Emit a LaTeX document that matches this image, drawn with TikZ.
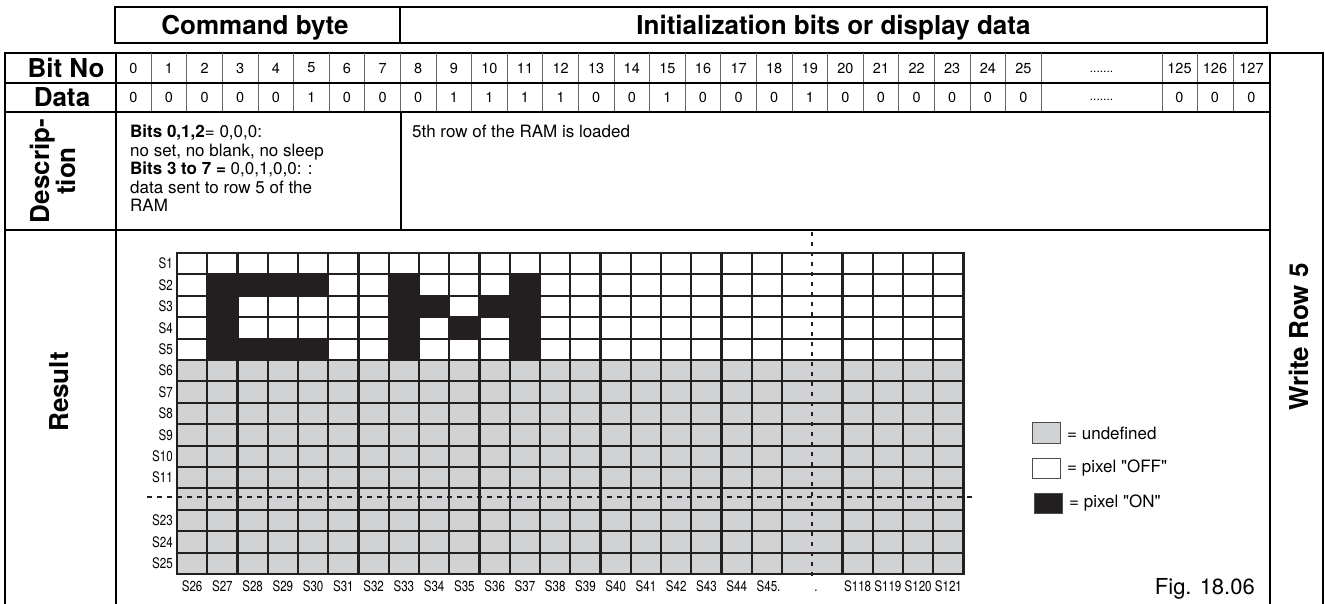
\documentclass[tikz,border=0pt]{standalone}
\usepackage{fontspec}
\setmainfont{TeX Gyre Heros}
\newfontfamily\narrowf[FakeStretch=0.8]{TeX Gyre Heros}
\newfontfamily\qf{TeX Gyre Heros}
\definecolor{ink}{RGB}{35,31,32}
\definecolor{gcol}{RGB}{209,210,212}
\begin{document}
\begin{tikzpicture}[x=1pt,y=-1pt,
  thk/.style={line width=2.8pt, line cap=rect, draw=black},
  thn/.style={line width=0.9pt, draw=black!60},
  grd/.style={line width=2.1pt, draw=ink},
  lab/.style={font=\fontsize{26}{26}\selectfont\bfseries, inner sep=0pt},
  num/.style={font=\fontsize{14.5}{14.5}\selectfont, inner sep=0pt},
  body/.style={font=\fontsize{17}{18.5}\selectfont, inner sep=0pt, align=left},
  sl/.style={font=\narrowf\fontsize{14.5}{14.5}\selectfont, inner sep=0pt},
  legbox/.style={line width=1pt, draw=black!70},
]
\useasboundingbox (0,0) rectangle (1325,603);
\fill[white] (0,0) rectangle (1325,603);

% header
\draw[thk] (115,7) rectangle (1267,43);
\draw[thk] (400,7) -- (400,43);
\node[lab, anchor=base] (cmd) at (255,34) {Command byte};
\node[lab, anchor=base] (init) at (833.5,34) {Initialization bits or display data};

% table frame
\draw[thk] (5,606) -- (5,53) -- (1323,53) -- (1323,606);
\draw[thk] (116,53) -- (116,606);
\draw[thk] (1270,53) -- (1270,606);

% bit dividers
\foreach \k in {1,...,26} \draw[thn] ({115.6+\k*35.6},53) -- ({115.6+\k*35.6},112);
\foreach \x in {1162,1197,1233} \draw[thn] (\x,53) -- (\x,112);
\draw[thk] (5,83) -- (1270,83);
\draw[thk] (5,112) -- (1270,112);
\draw[thk] (5,230) -- (1270,230);
\draw[line width=1.5pt] (401,112) -- (401,230);

% bit numbers and data
\foreach \k in {0,...,25} \node[num] (b\k) at ({115.6+(\k+0.5)*35.6},68) {\k};
\foreach \v [count=\i from 0] in {0,0,0,0,0,1,0,0,0,1,1,1,1,0,0,1,0,0,0,1,0,0,0,0,0,0}
  \node[num] (d\i) at ({115.6+(\i+0.5)*35.6},97.5) {\v};
\node[num, font=\fontsize{12}{12}\selectfont, anchor=base] (bdots) at (1101.5,72) {.......};
\node[num, font=\fontsize{12}{12}\selectfont, anchor=base] (ddots) at (1101.5,100) {.......};
\node[num] (b125) at (1179.5,68) {125};
\node[num] (b126) at (1215,68) {126};
\node[num] (b127) at (1251.5,68) {127};
\node[num] (d125) at (1179.5,97.5) {0};
\node[num] (d126) at (1215,97.5) {0};
\node[num] (d127) at (1251.5,97.5) {0};

% row labels
\node[lab, anchor=base] (bitno) at (66,77) {Bit No};
\node[lab, anchor=base] (datal) at (62,106.5) {Data};
\node[lab, rotate=90, align=center, font=\fontsize{26}{21}\selectfont\bfseries] (descl) at (53,171) {Descrip-\\tion};
\node[lab, rotate=90] (resl) at (59,392) {Result};
\node[lab, rotate=90] (wrl) at (1298.5,337) {Write Row 5};

% description texts
\node[body, anchor=north west] (dtxt) at (130,125) {\textbf{Bits 0,1,2}= 0,0,0:\\no set, no blank, no sleep\\\textbf{Bits 3 to 7 =} 0,0,1,0,0: :\\data sent to row 5 of the\\RAM};
\node[body, anchor=north west] (dtxt2) at (412,125) {5th row of the RAM is loaded};

% grid
\fill[gcol] (177,360) rectangle (963.5,574);
\foreach \c/\r in {2/2,3/2,4/2,5/2,8/2,12/2,2/3,8/3,9/3,11/3,12/3,2/4,8/4,10/4,12/4,2/5,3/5,4/5,5/5,8/5,12/5}
  \fill[ink] ({177+(\c-1)*30.25},{253+(\r-1)*21.4}) rectangle ++(30.25,21.4);
\foreach \k in {1,...,20,22,23,24,25}
  \draw[grd] ({177+\k*30.25},253) -- ({177+\k*30.25},574);
\foreach \r in {1,...,14}
  \draw[grd] (177,{253+\r*21.4}) -- (963.5,{253+\r*21.4});
\draw[grd, line width=2.3pt] (177,253) rectangle (963.5,574);
\draw[line width=1.6pt, ink, dash pattern=on 4pt off 6pt] (812.25,232) -- (812.25,577);
\draw[line width=1.6pt, ink, dash pattern=on 5pt off 5pt] (147,497) -- (975,497);

% S labels
\foreach \r/\t in {1/S1,2/S2,3/S3,4/S4,5/S5,6/S6,7/S7,8/S8,9/S9,10/S10,11/S11,13/S23,14/S24,15/S25}
  \node[sl, anchor=east] (r\r) at (173,{253+(\r-0.5)*21.4}) {\t};
\foreach \c in {1,...,19}{
  \pgfmathtruncatemacro\n{\c+25}
  \node[sl] (c\c) at ({177+(\c-0.5)*30.25},586) {S\n};
}
\node[sl] (c20) at ({177+19.5*30.25},586) {S45\rlap{.}};
\node[sl, anchor=base] (cdot) at (816,591) {.};
\foreach \c in {23,...,26}{
  \pgfmathtruncatemacro\n{\c+95}
  \node[sl] (c\c) at ({177+(\c-0.5)*30.25},586) {S\n};
}

% legend
\draw[legbox, fill=gcol] (1032,422) rectangle (1060,443.5);
\draw[legbox, fill=white] (1032,458) rectangle (1060,478);
\draw[legbox, fill=ink] (1034,493) rectangle (1062,513);
\node[body, anchor=west] (lg1) at (1067,433) {= undefined};
\node[body, anchor=west] (lg2) at (1067,468) {= pixel {\qf"}OFF{\qf"}};
\node[body, anchor=west] (lg3) at (1069,503) {= pixel {\qf"}ON{\qf"}};
\node[font=\fontsize{22}{22}\selectfont, inner sep=0pt, anchor=base east] (fig) at (1255,594) {Fig. 18.06};
\end{tikzpicture}
\end{document}
